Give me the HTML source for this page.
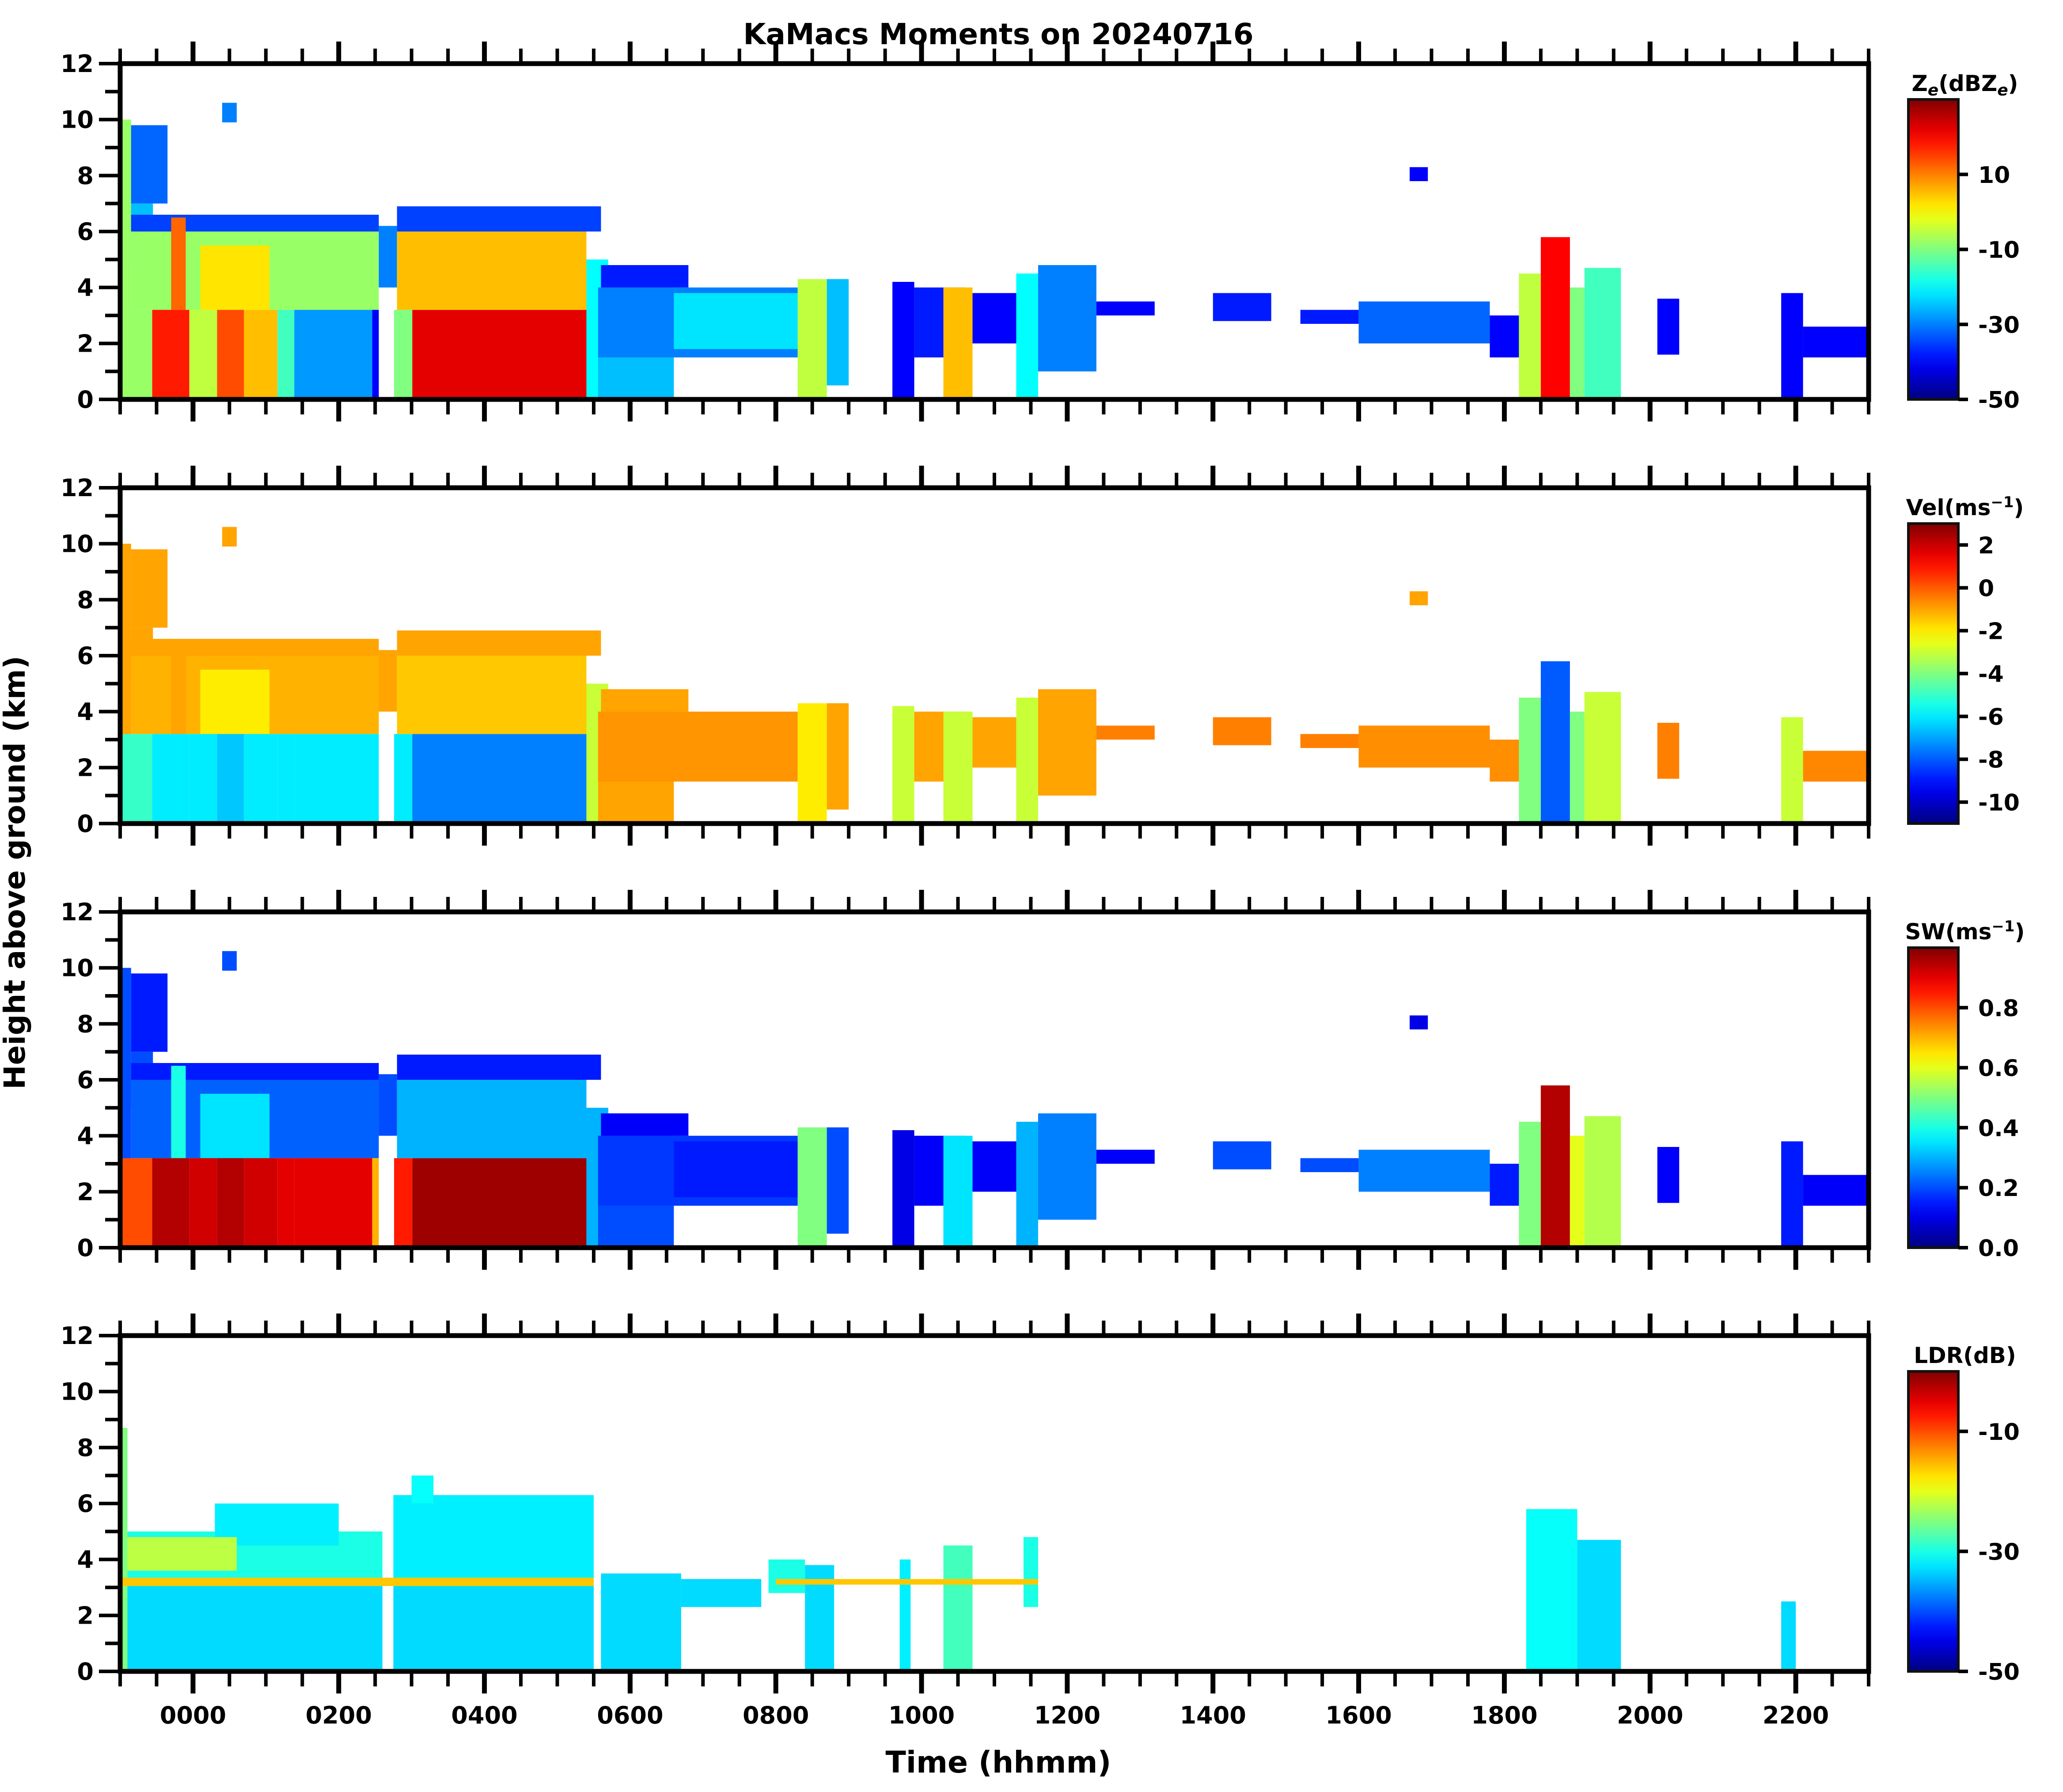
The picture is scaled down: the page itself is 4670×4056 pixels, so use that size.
<!DOCTYPE html>
<html><head><meta charset="utf-8">
<style>
html,body{margin:0;padding:0;background:#fff;}
svg{display:block;font-family:"DejaVu Sans","Liberation Sans",sans-serif;font-weight:bold;}
</style></head>
<body>
<svg id="fig" width="4670" height="4056" viewBox="0 0 4670 4056" xmlns="http://www.w3.org/2000/svg">
<text x="2260" y="100" font-size="66" text-anchor="middle">KaMacs Moments on 20240716</text>
<text x="0" y="0" font-size="66" text-anchor="middle" transform="translate(56,1975) rotate(-90)">Height above ground (km)</text>
<text x="2260" y="4012" font-size="68" text-anchor="middle">Time (hhmm)</text>
</svg>
<script>
// ---- data: cloud segments shared by Ze / Vel / SW panels (hours, km) ----
const segT0   = [-1.0,-0.85,-0.85,-0.85,-0.85, 0.1,-0.3, -0.98,-0.56,-0.05,0.33,0.70,1.16,1.39,2.46, 2.55, 2.76,3.01,5.40, 2.8, 2.8, 5.56,5.56,6.6, 5.6, 8.3, 8.7, 9.6, 9.9,10.3,10.7,11.3,11.6,12.4,14.0,15.2,16.0,17.8,18.2,18.5,18.9,19.1,20.1,21.8,22.1, 0.4,16.7];
const segT1   = [-0.85,-0.35,-0.55,2.55,2.55, 1.05,-0.1, -0.56,-0.05,0.33,0.70,1.16,1.39,2.46,2.55, 2.80, 3.01,5.40,5.70, 5.6, 5.4, 6.6, 8.3, 8.3, 6.8, 8.7, 9.0, 9.9,10.6,10.7,11.3,11.6,12.4,13.2,14.8,16.0,17.8,18.2,18.5,18.9,19.1,19.6,20.4,22.1,23.0, 0.6,16.95];
const segBase = [0, 7.0, 5.0, 6.0, 3.2, 3.2, 3.2, 0,0,0,0,0,0,0,0, 4.0, 0,0,0, 6.0, 3.2, 0,1.5,1.8, 4.0, 0,0.5,0,1.5,0,2.0,0,1.0,3.0,2.8,2.7,2.0,1.5,0,0,0,0,1.6,0,1.5, 9.9,7.8];
const segTop  = [10, 9.8, 7.0, 6.6, 6.0, 5.5, 6.5, 3.2,3.2,3.2,3.2,3.2,3.2,3.2,3.2, 6.2, 3.2,3.2,5.0, 6.9, 6.0, 4.0,4.0,3.8, 4.8, 4.3,4.3,4.2,4.0,4.0,3.8,4.5,4.8,3.5,3.8,3.2,3.5,3.0,4.5,5.8,4.0,4.7,3.6,3.8,2.6, 10.6,8.3];
const zeVals  = [-8,-32,-25,-35,-8, 2,12, -8,18,-5,14,5,-15,-28,-40, -30, -10,22,-20, -35,5, -25,-30,-22, -38, -5,-25,-40,-38,5,-40,-20,-30,-40,-38,-38,-32,-40,-5,20,-10,-15,-40,-40,-40, -30,-40];
const velVals = [-1,-1,-1,-1,-1.2, -2,-1, -5,-6,-6,-6.5,-6,-6,-6,-6, -1, -6,-7.5,-3, -1,-1.5, -1,-0.8,-0.8, -1, -2,-1,-3,-1,-3,-1,-3,-1,-0.5,-0.5,-0.5,-0.7,-0.7,-4,-8,-4,-3,-0.5,-3,-0.6, -1,-1];
const swVals  = [0.2,0.15,0.2,0.15,0.22, 0.35,0.4, 0.8,0.95,0.92,0.95,0.92,0.9,0.9,0.7, 0.2, 0.85,0.97,0.3, 0.15,0.3, 0.2,0.18,0.15, 0.12, 0.5,0.2,0.1,0.12,0.35,0.12,0.3,0.25,0.12,0.2,0.2,0.25,0.15,0.5,0.95,0.6,0.55,0.12,0.15,0.12, 0.2,0.1];
// ---- LDR segments ----
const ldrT0   = [-1.0,-0.9,-0.9,0.3,-0.9,2.75,2.75,3.0,5.6,6.7,7.9,8.4,9.7,10.3,11.4,18.3,19.0,21.8,-1.0,8.0];
const ldrT1   = [-0.9,2.6,2.6,2.0,0.6,5.5,5.5,3.3,6.7,7.8,8.4,8.8,9.85,10.7,11.6,19.0,19.6,22.0,5.5,11.6];
const ldrBase = [0,0,3.1,4.5,3.6,0,3.1,6.0,0,2.3,2.8,0,0,0,2.3,0,0,0,3.05,3.1];
const ldrTop  = [8.7,3.1,5.0,6.0,4.8,3.1,6.3,7.0,3.5,3.3,4.0,3.8,4.0,4.5,4.8,5.8,4.7,2.5,3.35,3.3];
const ldrVals = [-25,-33,-30,-32,-22,-33,-32,-31,-33,-33,-30,-33,-32,-28,-30,-31,-33,-33,-16,-16];
// ---- axes ----
const yTickLabels = ["0","2","4","6","8","10","12"];
const xTickLabels = ["0000","0200","0400","0600","0800","1000","1200","1400","1600","1800","2000","2200"];
const cbMins = [-50,-11,0,-50];
const cbMaxs = [30,3,1,0];
const cbTicks = [[10,-10,-30,-50],[2,0,-2,-4,-6,-8,-10],[0.8,0.6,0.4,0.2,0.0],[-10,-30,-50]];
const cbTickText = [["10","-10","-30","-50"],["2","0","-2","-4","-6","-8","-10"],["0.8","0.6","0.4","0.2","0.0"],["-10","-30","-50"]];

const NS="http://www.w3.org/2000/svg";
const svg=document.getElementById('fig');
const L=272,R=4230,H=760,TOPS=[144,1104,2064,3023];
const T0=-1,T1=23;
function xs(t){return L+(t-T0)/(T1-T0)*(R-L);}
function ys(h,p){return TOPS[p]+H*(1-h/12);}
function clamp(v){return Math.max(0,Math.min(1,v));}
function jet(x){x=clamp(x);const r=clamp(1.5-Math.abs(4*x-3)),g=clamp(1.5-Math.abs(4*x-2)),b=clamp(1.5-Math.abs(4*x-1));return `rgb(${Math.round(r*255)},${Math.round(g*255)},${Math.round(b*255)})`;}
function mk(tag,attrs,parent){const e=document.createElementNS(NS,tag);for(const k in attrs)e.setAttribute(k,attrs[k]);(parent||svg).appendChild(e);return e;}

const defs=mk('defs',{});
const grad=mk('linearGradient',{id:'jetg',x1:'0',y1:'1',x2:'0',y2:'0'},defs);
for(let i=0;i<=20;i++){mk('stop',{offset:(i/20).toString(),'stop-color':jet(i/20)},grad);}

const panelNames=['reflectivity','velocity','spectrum-width','ldr'];
for(let p=0;p<4;p++){
  const top=TOPS[p];
  const cp=mk('clipPath',{id:'clip'+p},defs);
  mk('rect',{x:L,y:top,width:R-L,height:H},cp);
  const g=mk('g',{'clip-path':`url(#clip${p})`});
  
  
  const vmin=cbMins[p],vmax=cbMaxs[p];
  if(p<3){
    const vals=[zeVals,velVals,swVals][p];
    for(let i=0;i<segT0.length;i++){
      const r=mk('rect',{x:xs(segT0[i]),y:ys(segTop[i],p),width:xs(segT1[i])-xs(segT0[i]),height:ys(segBase[i],p)-ys(segTop[i],p),fill:jet((vals[i]-vmin)/(vmax-vmin))},g);
      
      
    }
  } else {
    for(let i=0;i<ldrT0.length;i++){
      const r=mk('rect',{x:xs(ldrT0[i]),y:ys(ldrTop[i],p),width:xs(ldrT1[i])-xs(ldrT0[i]),height:ys(ldrBase[i],p)-ys(ldrTop[i],p),fill:jet((ldrVals[i]-vmin)/(vmax-vmin))},g);
      
      
    }
  }
  const fr=mk('rect',{x:L,y:top,width:R-L,height:H,fill:'none',stroke:'#000','stroke-width':11});
  
  
  for(let h=0;h<=12;h++){
    const major=h%2===0,yy=ys(h,p);
    const tk=mk('line',{x1:L-(major?48:34),x2:L,y1:yy,y2:yy,stroke:'#000','stroke-width':8});
    
    
    if(major){
      const tx=mk('text',{x:L-60,y:yy+19,'font-size':54,'text-anchor':'end'});
      tx.textContent=yTickLabels[h/2];
      
      
    }
  }
  for(let k=0;k<=48;k++){
    const t=T0+k*0.5,xx=xs(t);
    const major=(Math.abs(t)%2)===0;
    const len=major?50:34;
    const tb=mk('line',{x1:xx,x2:xx,y1:top+H,y2:top+H+len,stroke:'#000','stroke-width':major?11:8});
    
    
    const tt=mk('line',{x1:xx,x2:xx,y1:top,y2:top-len,stroke:'#000','stroke-width':major?11:8});
    
    
    if(p===3&&major&&t>=0&&t<=22){
      const tx=mk('text',{x:xx,y:top+H+118,'font-size':54,'text-anchor':'middle'});
      tx.textContent=xTickLabels[t/2];
      
      
    }
  }
  const cbX=4320,cbW=113,cbTop=top+81,cbBot=top+H;
  const cb=mk('rect',{x:cbX,y:cbTop,width:cbW,height:cbBot-cbTop,fill:'url(#jetg)',stroke:'#111','stroke-width':6});
  
  
  for(let j=0;j<cbTicks[p].length;j++){
    const v=cbTicks[p][j];
    const yy=cbBot-(v-vmin)/(vmax-vmin)*(cbBot-cbTop);
    const tk=mk('line',{x1:cbX+cbW,x2:cbX+cbW+22,y1:yy,y2:yy,stroke:'#000','stroke-width':8});
    
    
    const tx=mk('text',{x:4478,y:yy+19,'font-size':52});
    tx.textContent=cbTickText[p][j];
    
    
  }
  const lab=mk('text',{x:4448,y:top+62,'font-size':50,'text-anchor':'middle'});
  if(p===0){lab.innerHTML='Z<tspan font-size="36" dy="10" font-style="italic">e</tspan><tspan dy="-10">(dBZ</tspan><tspan font-size="36" dy="10" font-style="italic">e</tspan><tspan dy="-10">)</tspan>';}
  else if(p===1){lab.innerHTML='Vel(ms<tspan font-size="34" dy="-18">−1</tspan><tspan dy="18">)</tspan>';}
  else if(p===2){lab.innerHTML='SW(ms<tspan font-size="34" dy="-18">−1</tspan><tspan dy="18">)</tspan>';}
  else {lab.textContent='LDR(dB)';}
  
  
}
</script>
</body></html>
